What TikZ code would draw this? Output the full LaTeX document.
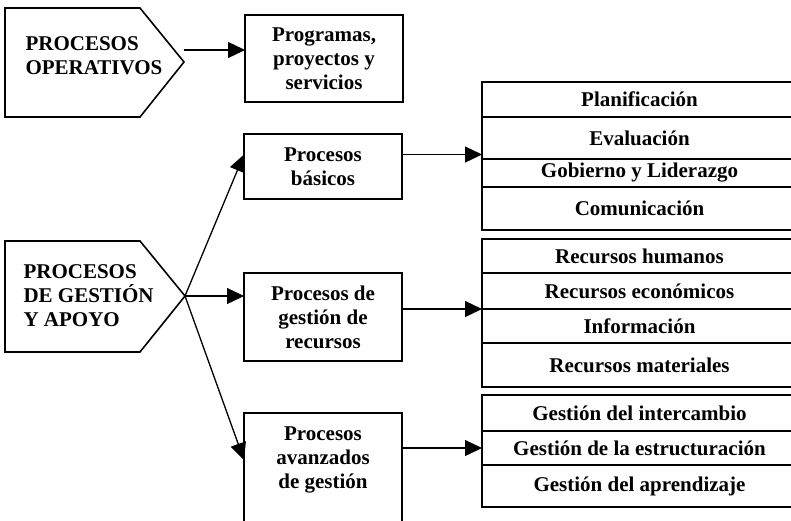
\documentclass[tikz,border=0pt]{standalone}
\usepackage{fontspec}
\setmainfont{Liberation Serif}
\usetikzlibrary{arrows.meta, positioning}

\begin{document}
\begin{tikzpicture}[x=1pt, y=-1pt,
    every node/.style={font=\fontsize{21}{24}\selectfont\bfseries},
    box/.style={draw, line width=1.6pt, minimum width=158pt, align=center, inner sep=2pt, outer sep=0pt},
    cell/.style={draw, line width=1.6pt, minimum width=315pt, inner sep=0pt, outer sep=0pt},
    arr/.style={line width=1.3pt, -{Triangle[length=17pt,width=16pt]}}]
			\clip (0,0) rectangle (791,520);
			% left pentagons
			\draw[line width=1.6pt] (5,8) -- (140,8) -- (184,62) -- (140,117) -- (5,117) -- cycle;
			\draw[line width=1.6pt] (5,241) -- (140,241) -- (185,296) -- (140,352) -- (5,352) -- cycle;
			\node[align=left, anchor=west] (oper) at (22,56) {PROCESOS\\OPERATIVOS};
			\node[align=left, anchor=west] (gest) at (20,296) {PROCESOS\\DE GESTIÓN\\Y APOYO};
			\coordinate (opout) at (184,50);
			\coordinate (tipB) at (185,296);
			% middle boxes
			\node[box, minimum height=87pt] (prog) at (324,58.5) {Programas,\\proyectos y\\servicios};
			\node[box, minimum height=65pt] (basicos) at (323,166.5) {Procesos\\básicos};
			\node[box, minimum height=88pt] (recursos) at (323,317) {Procesos de\\gestión de\\recursos};
			\node[box, minimum height=117pt, anchor=north] (avanz) at (323,413) {};
			\node[align=center] (avanztxt) at (323,460) {Procesos\\avanzados\\de gestión};
			% right column, group 1
			\node[cell, minimum height=35pt, anchor=north west] (planif) at (482,82) {Planificación};
			\node[cell, minimum height=42pt, below=0pt of planif] (eval) {Evaluación};
			\node[cell, minimum height=28pt, below=0pt of eval] (gobierno) {Gobierno y Liderazgo};
			\node[cell, minimum height=43pt, below=0pt of gobierno] (comun) {Comunicación};
			% group 2
			\node[cell, minimum height=34pt, anchor=north west] (humanos) at (482,239) {Recursos humanos};
			\node[cell, minimum height=36pt, below=0pt of humanos] (econ) {Recursos económicos};
			\node[cell, minimum height=34pt, below=0pt of econ] (info) {Información};
			\node[cell, minimum height=44pt, below=0pt of info] (mater) {Recursos materiales};
			% group 3
			\node[cell, minimum height=36pt, anchor=north west] (interc) at (482,395) {Gestión del intercambio};
			\node[cell, minimum height=34pt, below=0pt of interc] (estruct) {Gestión de la estructuración};
			\node[cell, minimum height=42pt, below=0pt of estruct] (aprend) {Gestión del aprendizaje};
			% arrows
			\coordinate (basin) at ([yshift=12pt]basicos.west);
			\coordinate (basout) at ([yshift=12pt]basicos.east);
			\draw[arr] (opout) -- (opout -| prog.west);
			\draw[arr] (tipB) -- (basin);
			\draw[arr] (tipB) -- (tipB -| recursos.west);
			\draw[arr] (tipB) -- (avanztxt -| avanz.west);
			\draw[arr] (basout) -- (basout -| planif.west);
			\draw[arr] (recursos.east |- econ.south) -- (econ.south west);
			\draw[arr] (avanz.east |- estruct) -- (estruct.west);
		\end{tikzpicture}
\end{document}
